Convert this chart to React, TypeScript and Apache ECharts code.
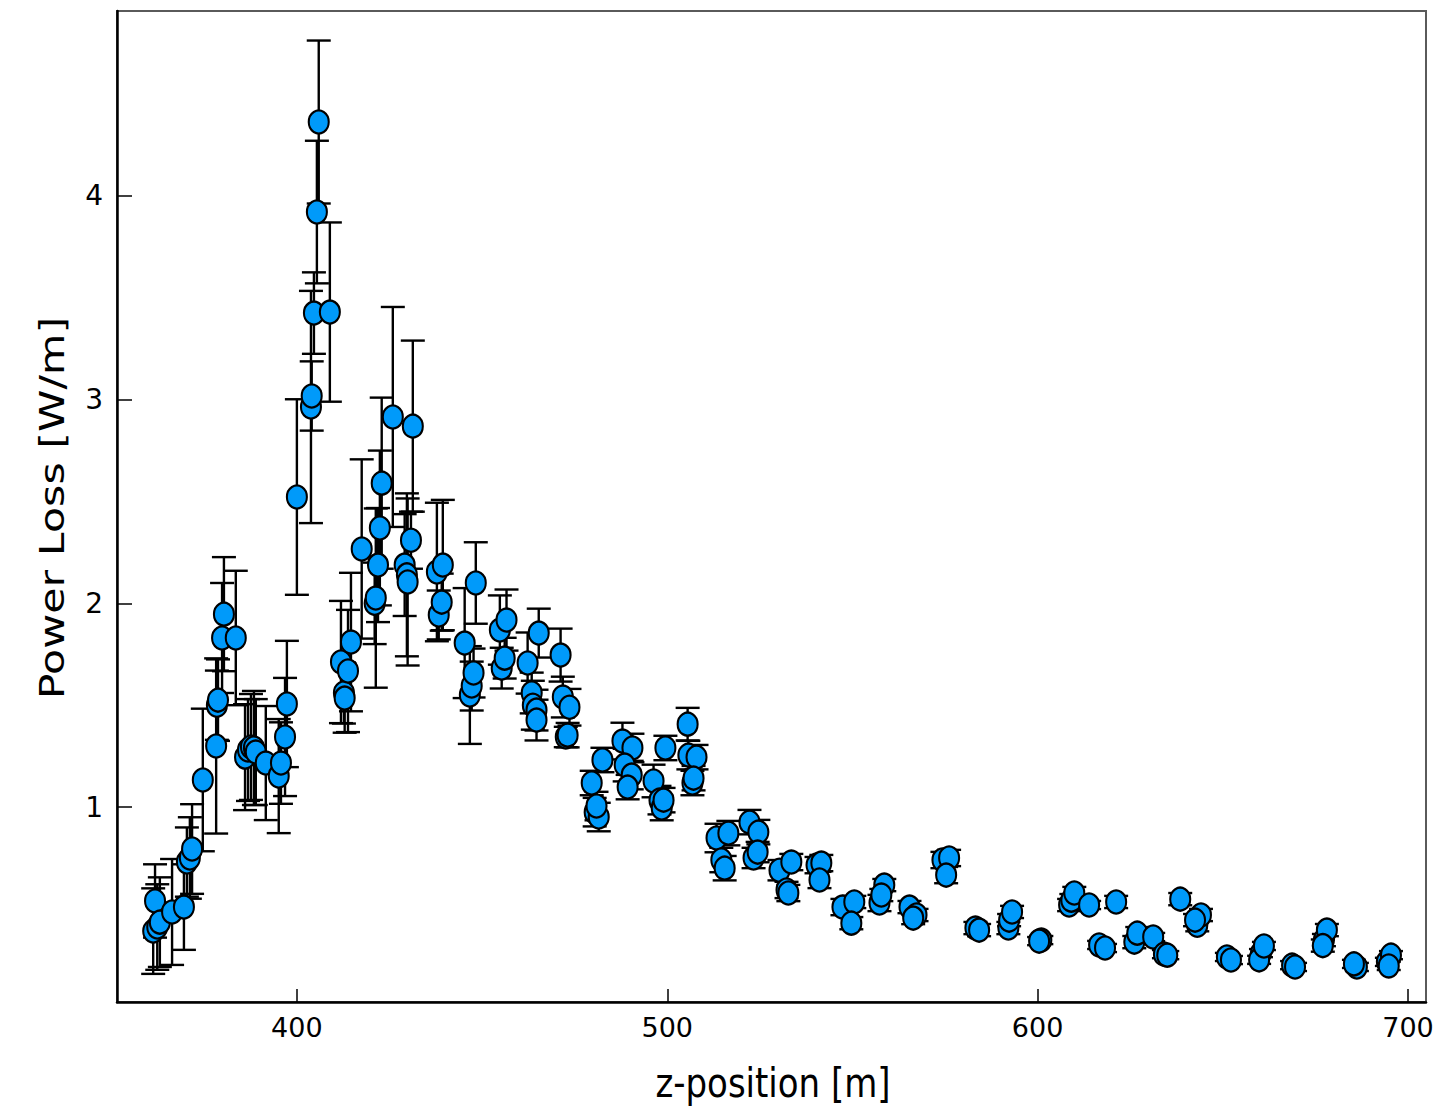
import React, { useEffect, useRef } from "react";
import * as echarts from "echarts";

// z-position [m]
const zPos: number[] = [
  361.2, 361.7, 362.3, 363.0, 366.3, 369.5, 370.3, 371.1, 371.7,
  374.6, 378.2, 378.4, 378.7, 379.8, 380.3, 383.5,
  386.0, 386.8, 387.6, 388.4, 388.9, 391.6, 395.1, 395.7, 396.8, 397.3,
  400.0, 403.8, 404.0, 404.6, 405.4, 405.9, 408.9,
  411.9, 412.7, 412.9, 413.8, 414.6, 417.5,
  421.0, 421.3, 421.9, 422.4, 422.9, 425.9, 429.1, 429.7, 429.9, 430.8, 431.3,
  437.8, 438.3, 439.1, 439.4, 445.3, 446.7, 447.2, 447.7, 448.3,
  454.8, 455.3, 456.1, 456.6, 462.3, 463.4, 463.7, 464.7, 464.7, 465.3,
  471.2, 471.8, 473.6, 472.6, 473.1,
  479.6, 482.5, 480.4, 481.5, 480.9,
  487.9, 490.6, 488.5, 490.4, 489.3, 496.3, 497.9, 498.5, 499.0, 499.5,
  505.5, 505.7, 507.9, 506.8, 507.1,
  513.3, 516.5, 514.6, 515.5, 522.2, 524.6, 523.3, 524.4,
  530.3, 533.5, 532.2, 532.7, 540.3, 541.6, 541.1,
  547.3, 550.5, 549.7, 557.3, 558.6, 557.8, 565.4, 567.3, 566.4,
  574.3, 576.1, 575.3, 583.2, 584.2,
  592.1, 592.3, 593.1, 601.0, 600.4,
  608.5, 609.1, 609.9, 613.9, 621.2, 616.6, 618.2,
  626.1, 626.9, 631.2, 634.1, 635.0, 638.5, 643.1, 644.1, 642.5,
  651.1, 652.2, 660.3, 659.8, 661.1, 668.7, 669.5,
  677.3, 678.1, 677.0, 686.2, 685.4, 694.3, 695.4, 694.8,
];

// Power loss [W/m]
const powerLoss: number[] = [
  0.391, 0.539, 0.411, 0.435, 0.485, 0.509, 0.73, 0.75, 0.794,
  1.133, 1.3, 1.5, 1.525, 1.83, 1.947, 1.83,
  1.245, 1.28, 1.295, 1.29, 1.27, 1.216, 1.152, 1.216, 1.344, 1.506,
  2.522, 2.964, 3.018, 3.425, 3.921, 4.363, 3.43,
  1.712, 1.56, 1.535, 1.668, 1.81, 2.267,
  2.0, 2.026, 2.188, 2.37, 2.59, 2.915, 2.188, 2.14, 2.105, 2.31, 2.87,
  2.154, 1.943, 2.006, 2.188, 1.805, 1.55, 1.594, 1.658, 2.1,
  1.869, 1.682, 1.731, 1.918, 1.707, 1.56, 1.5, 1.476, 1.427, 1.854,
  1.746, 1.54, 1.49, 1.344, 1.353,
  1.118, 1.231, 0.975, 0.951, 1.005,
  1.324, 1.29, 1.206, 1.157, 1.098, 1.128, 1.034, 0.995, 1.034, 1.29,
  1.407, 1.255, 1.245, 1.118, 1.142,
  0.848, 0.872, 0.74, 0.7, 0.926, 0.877, 0.75, 0.779,
  0.69, 0.73, 0.593, 0.578, 0.715, 0.725, 0.642,
  0.509, 0.534, 0.43, 0.529, 0.617, 0.568, 0.509, 0.47, 0.455,
  0.74, 0.75, 0.666, 0.406, 0.396,
  0.406, 0.445, 0.485, 0.347, 0.342,
  0.519, 0.543, 0.578, 0.519, 0.534, 0.323, 0.308,
  0.337, 0.381, 0.362, 0.278, 0.273, 0.548, 0.42, 0.47, 0.445,
  0.264, 0.249, 0.283, 0.25, 0.318, 0.224, 0.215,
  0.347, 0.396, 0.32, 0.215, 0.23, 0.24, 0.273, 0.22,
];

// symmetric error [W/m]
const powerErr: number[] = [
  0.21, 0.18, 0.21, 0.22, 0.26, 0.21, 0.17, 0.2, 0.22,
  0.35, 0.43, 0.17, 0.2, 0.27, 0.28, 0.33,
  0.26, 0.25, 0.26, 0.28, 0.26, 0.28, 0.28, 0.2, 0.29, 0.31,
  0.48, 0.57, 0.17, 0.2, 0.35, 0.4, 0.44,
  0.3, 0.15, 0.17, 0.3, 0.34, 0.44,
  0.2, 0.44, 0.28, 0.38, 0.42, 0.54, 0.25, 0.4, 0.41, 0.14, 0.42,
  0.34, 0.12, 0.14, 0.32, 0.27, 0.24, 0.12, 0.12, 0.2,
  0.17, 0.1, 0.1, 0.15, 0.15, 0.1, 0.12, 0.1, 0.1, 0.12,
  0.13, 0.1, 0.09, 0.05, 0.06,
  0.06, 0.06, 0.07, 0.07, 0.07,
  0.09, 0.07, 0.08, 0.07, 0.06, 0.08, 0.07, 0.06, 0.06, 0.06,
  0.08, 0.07, 0.06, 0.06, 0.06,
  0.07, 0.06, 0.06, 0.06, 0.06, 0.06, 0.05, 0.05,
  0.05, 0.04, 0.04, 0.04, 0.04, 0.04, 0.04,
  0.04, 0.03, 0.03, 0.04, 0.03, 0.03, 0.03, 0.03, 0.03,
  0.04, 0.04, 0.04, 0.03, 0.03,
  0.03, 0.03, 0.03, 0.02, 0.02,
  0.03, 0.03, 0.03, 0.02, 0.03, 0.02, 0.02,
  0.03, 0.03, 0.02, 0.02, 0.02, 0.03, 0.03, 0.03, 0.03,
  0.02, 0.02, 0.02, 0.02, 0.02, 0.02, 0.02,
  0.03, 0.03, 0.03, 0.02, 0.02, 0.02, 0.02, 0.02,
];

const xTicks: number[] = [400, 500, 600, 700];
const yTicks: number[] = [1, 2, 3, 4];
const xTitle = "z-position [m]";
const yTitle = "Power Loss [W/m]";

export default function App() {
  const ref = useRef<HTMLDivElement>(null);

  useEffect(() => {
    if (!ref.current) return;
    const chart = echarts.init(ref.current, undefined, { renderer: "svg" });
    const n = Math.min(zPos.length, powerLoss.length, powerErr.length);
    const rows: number[][] = [];
    for (let i = 0; i < n; i++) rows.push([zPos[i], powerLoss[i], powerErr[i]]);

    const font = "'DejaVu Sans', sans-serif";

    chart.setOption({
      animation: false,
      backgroundColor: "#ffffff",
      grid: {
        left: 117,
        top: 11,
        width: 1309,
        height: 991,
        show: true,
        borderColor: "#5a5a5a",
        borderWidth: 2,
        backgroundColor: "transparent",
      },
      xAxis: {
        type: "value",
        min: 351.43,
        max: 704.86,
        axisLine: { show: true, onZero: false, lineStyle: { color: "#000", width: 2.5 } },
        axisTick: {
          show: true,
          inside: true,
          length: 13,
          customValues: xTicks,
          lineStyle: { color: "#000", width: 1.5 },
        },
        axisLabel: {
          customValues: xTicks,
          fontSize: 27,
          fontFamily: font,
          color: "#000",
          margin: 12,
        },
        splitLine: { show: false },
      },
      yAxis: {
        type: "value",
        min: 0.043,
        max: 4.908,
        axisLine: { show: true, onZero: false, lineStyle: { color: "#000", width: 2.5 } },
        axisTick: {
          show: true,
          inside: true,
          length: 15,
          customValues: yTicks,
          lineStyle: { color: "#000", width: 1.5 },
        },
        axisLabel: {
          customValues: yTicks,
          fontSize: 28,
          fontFamily: font,
          color: "#000",
          margin: 14,
        },
        splitLine: { show: false },
      },
      graphic: [
        {
          type: "text",
          x: 773,
          y: 1083,
          scaleY: 1.22,
          style: {
            text: xTitle,
            fontSize: 34,
            fontFamily: font,
            fill: "#000",
            textAlign: "center",
            textVerticalAlign: "middle",
          },
        },
        {
          type: "text",
          x: 52,
          y: 508,
          rotation: Math.PI / 2,
          scaleX: 1.26,
          style: {
            text: yTitle,
            fontSize: 34,
            fontFamily: font,
            fill: "#000",
            textAlign: "center",
            textVerticalAlign: "middle",
          },
        },
      ],
      series: [
        {
          type: "custom",
          name: "errors",
          data: rows,
          encode: { x: 0, y: 1 },
          z: 1,
          renderItem: (params: any, api: any) => {
            const x = api.value(0);
            const y = api.value(1);
            const e = api.value(2);
            const top = api.coord([x, y + e]);
            const bot = api.coord([x, y - e]);
            const hw = 12;
            const st = { stroke: "#000", lineWidth: 2.4 };
            return {
              type: "group",
              children: [
                { type: "line", shape: { x1: top[0], y1: top[1], x2: bot[0], y2: bot[1] }, style: st },
                { type: "line", shape: { x1: top[0] - hw, y1: top[1], x2: top[0] + hw, y2: top[1] }, style: st },
                { type: "line", shape: { x1: bot[0] - hw, y1: bot[1], x2: bot[0] + hw, y2: bot[1] }, style: st },
              ],
            };
          },
        },
        {
          type: "scatter",
          name: "points",
          data: rows.map((r) => [r[0], r[1]]),
          z: 2,
          symbol: "circle",
          symbolSize: [20, 23],
          itemStyle: { color: "#009AFA", borderColor: "#000", borderWidth: 2.2, opacity: 1 },
        },
      ],
    });

    return () => chart.dispose();
  }, []);

  return (
    <div
      ref={ref}
      style={{ position: "absolute", left: 0, top: 0, width: 1453, height: 1110, background: "#fff" }}
    />
  );
}
